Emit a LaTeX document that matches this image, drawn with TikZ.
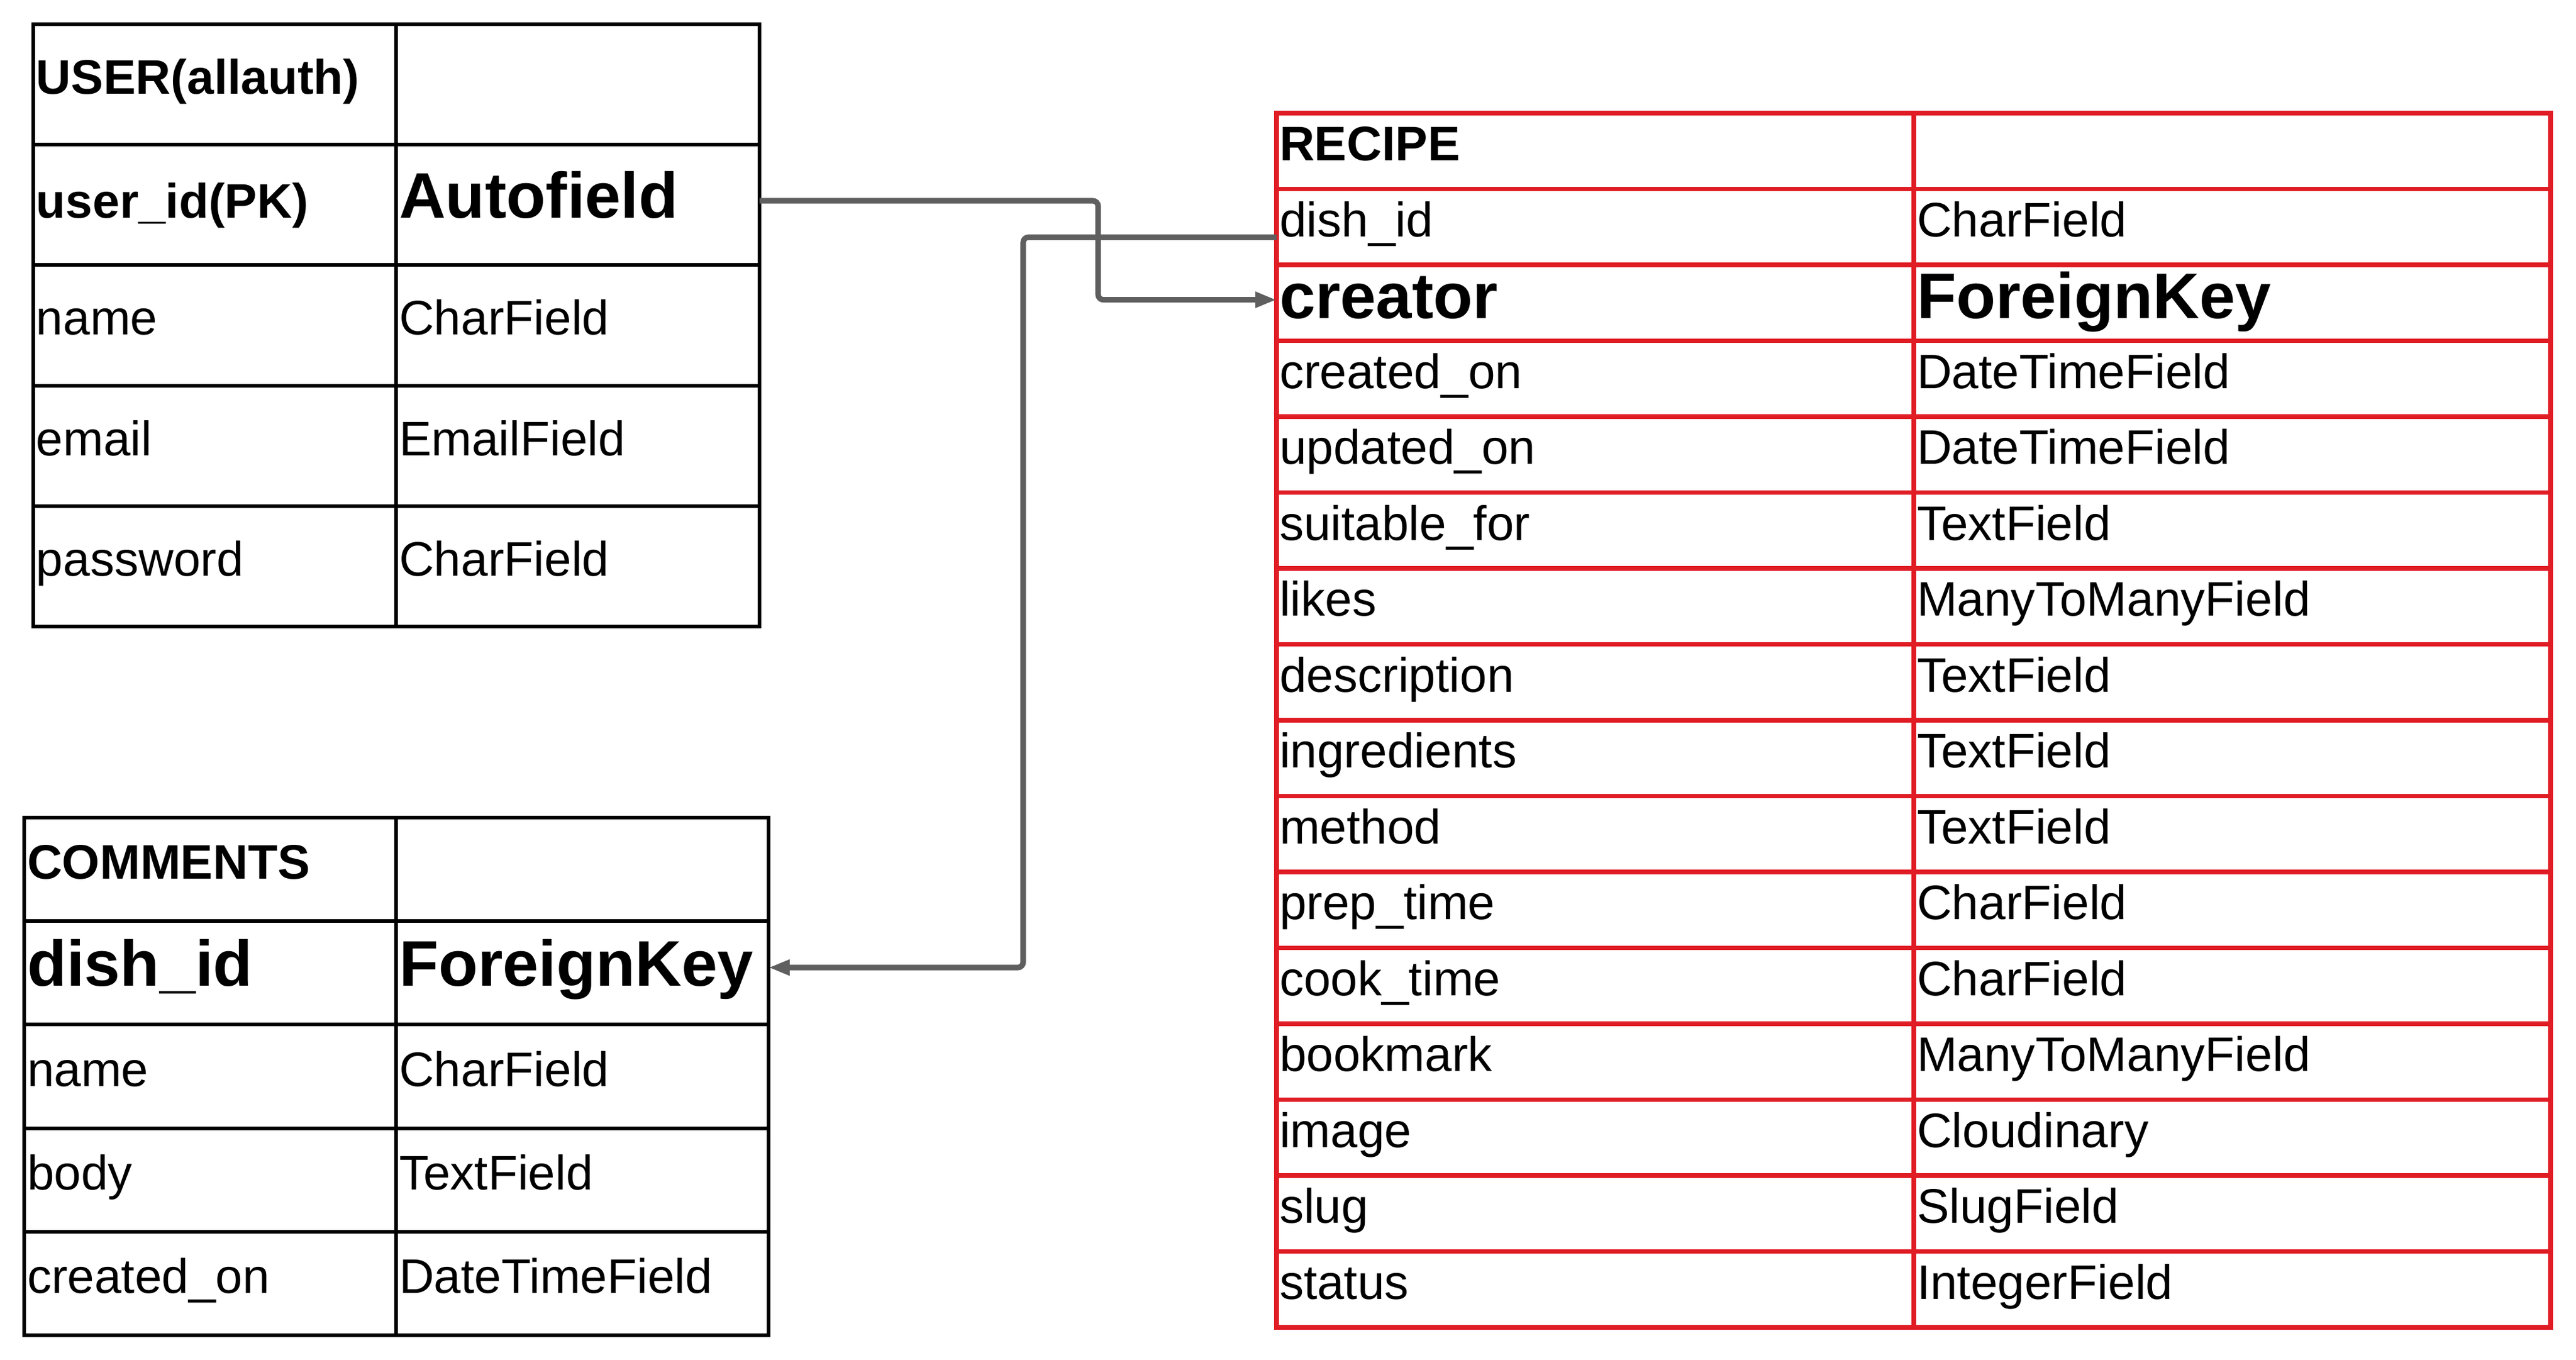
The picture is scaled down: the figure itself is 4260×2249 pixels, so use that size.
\documentclass[tikz,border=0pt]{standalone}
\usepackage{fontspec}
\setmainfont{Liberation Sans}
\usetikzlibrary{calc,arrows.meta}
\definecolor{tabred}{RGB}{224,28,36}
\definecolor{conngray}{RGB}{95,95,95}
\tikzset{
  blackcell/.style={draw=black, line width=1.6pt, rectangle, inner sep=0pt, outer sep=0pt},
  redcell/.style={draw=tabred, line width=2.2pt, rectangle, inner sep=0pt, outer sep=0pt},
  txt/.style={inner sep=0pt, outer sep=0pt, font=\fontsize{22.8}{26}\selectfont},
  conn/.style={draw=conngray, line width=2.6pt, rounded corners=2.5pt, -{Triangle[length=10pt,width=7pt]}},
}
\newcommand\bigb[1]{{\fontsize{30.3}{34}\selectfont\bfseries #1}}
\def\boff{16}
\newcommand\trow[9]{%
  \pgfmathsetmacro\wa{(#3-#2)*0.01}%
  \pgfmathsetmacro\wb{(#4-#3)*0.01}%
  \pgfmathsetmacro\hh{(#6-#5)*0.01}%
  \node[#7, minimum width=\wa cm, minimum height=\hh cm, anchor=north west] (#1a) at (#2,#5) {};
  \node[#7, minimum width=\wb cm, minimum height=\hh cm, anchor=north west] (#1b) at (#3,#5) {};
  \node[txt, anchor=base west] (#1at) at ($(#1a.west)+(5,\boff)$) {#8};
  \node[txt, anchor=base west] (#1bt) at ($(#1b.west)+(5,\boff)$) {#9};
}
\begin{document}
\begin{tikzpicture}[x=0.01cm, y=-0.01cm]
\useasboundingbox (0,0) rectangle (4260,2249);
% USER table
\trow{u0}{55}{655}{1256}{40}{239}{blackcell}{\bfseries USER(allauth)}{}
\def\boff{22}
\trow{u1}{55}{655}{1256}{239}{438}{blackcell}{\bfseries user\_id(PK)}{\bigb{Autofield}}
\def\boff{16}
\trow{u2}{55}{655}{1256}{438}{638}{blackcell}{name}{CharField}
\trow{u3}{55}{655}{1256}{638}{837}{blackcell}{email}{EmailField}
\trow{u4}{55}{655}{1256}{837}{1036}{blackcell}{password}{CharField}
% COMMENTS table
\trow{c0}{40}{655}{1271}{1352}{1523}{blackcell}{\bfseries COMMENTS}{}
\def\boff{22}
\trow{c1}{40}{655}{1271}{1523}{1694}{blackcell}{\bigb{dish\_id}}{\bigb{ForeignKey}}
\def\boff{16}
\trow{c2}{40}{655}{1271}{1694}{1866}{blackcell}{name}{CharField}
\trow{c3}{40}{655}{1271}{1866}{2037}{blackcell}{body}{TextField}
\trow{c4}{40}{655}{1271}{2037}{2208}{blackcell}{created\_on}{DateTimeField}
% RECIPE table
\trow{r0}{2111}{3165}{4218}{187}{312.5}{redcell}{\bfseries RECIPE}{}
\trow{r1}{2111}{3165}{4218}{312.5}{438}{redcell}{dish\_id}{CharField}
\def\boff{26}
\trow{r2}{2111}{3165}{4218}{438}{563.5}{redcell}{\bigb{creator}}{\bigb{ForeignKey}}
\def\boff{16}
\trow{r3}{2111}{3165}{4218}{563.5}{689}{redcell}{created\_on}{DateTimeField}
\trow{r4}{2111}{3165}{4218}{689}{814.5}{redcell}{updated\_on}{DateTimeField}
\trow{r5}{2111}{3165}{4218}{814.5}{940}{redcell}{suitable\_for}{TextField}
\trow{r6}{2111}{3165}{4218}{940}{1065.5}{redcell}{likes}{ManyToManyField}
\trow{r7}{2111}{3165}{4218}{1065.5}{1191}{redcell}{description}{TextField}
\trow{r8}{2111}{3165}{4218}{1191}{1316.5}{redcell}{ingredients}{TextField}
\trow{r9}{2111}{3165}{4218}{1316.5}{1442}{redcell}{method}{TextField}
\trow{r10}{2111}{3165}{4218}{1442}{1567.5}{redcell}{prep\_time}{CharField}
\trow{r11}{2111}{3165}{4218}{1567.5}{1693}{redcell}{cook\_time}{CharField}
\trow{r12}{2111}{3165}{4218}{1693}{1818.5}{redcell}{bookmark}{ManyToManyField}
\trow{r13}{2111}{3165}{4218}{1818.5}{1944}{redcell}{image}{Cloudinary}
\trow{r14}{2111}{3165}{4218}{1944}{2069.5}{redcell}{slug}{SlugField}
\trow{r15}{2111}{3165}{4218}{2069.5}{2195}{redcell}{status}{IntegerField}
% connectors
\coordinate (j1) at (1816,0);
\coordinate (j2) at (1692,0);
\coordinate (s1) at ($(u1b.east)+(0,-6.5)$);
\coordinate (e1) at ($(r2a.west)+(0,-5)$);
\coordinate (s2) at ($(r1a.west)+(0,17)$);
\coordinate (e2) at ($(c1b.east)+(0,-8.5)$);
\draw[conn] (s1) -- (s1 -| j1) |- (e1);
\draw[conn] (s2) -- (s2 -| j2) |- (e2);
\end{tikzpicture}
\end{document}
